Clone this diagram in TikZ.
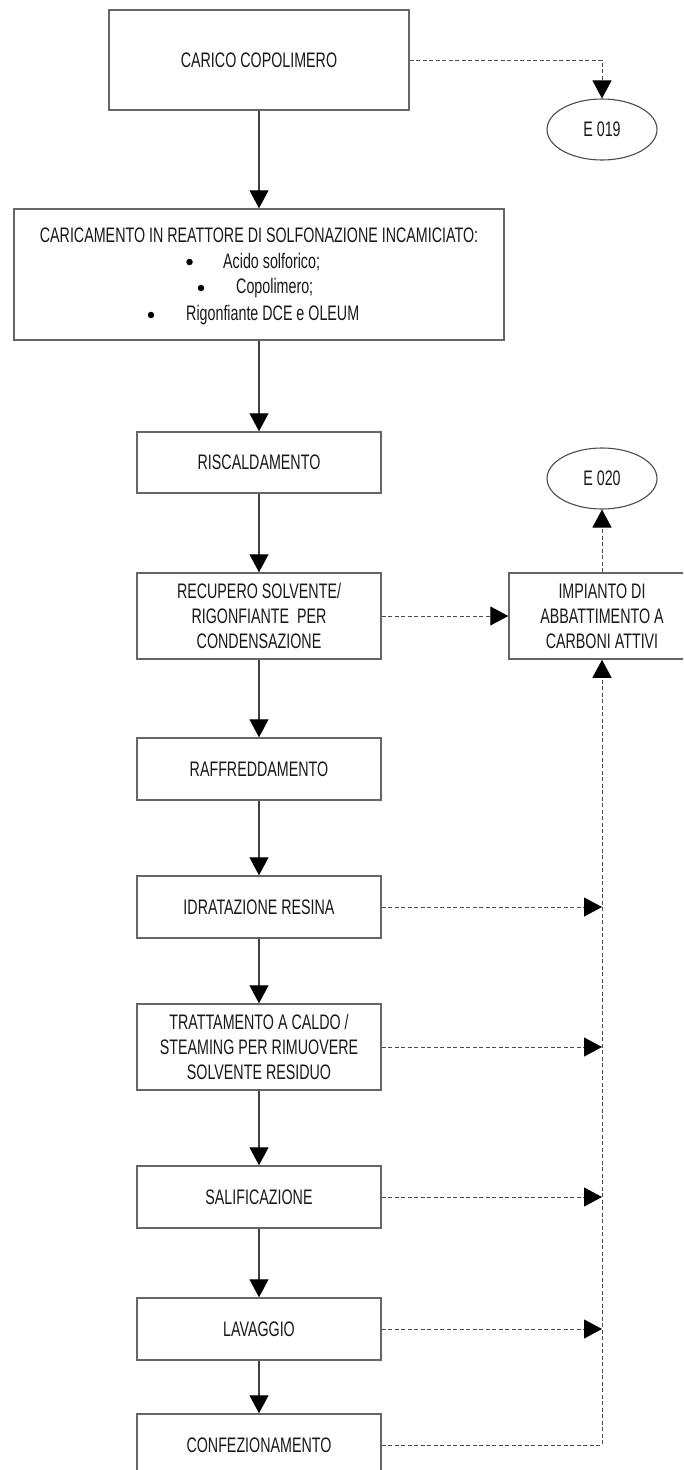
\documentclass[tikz,border=0pt]{standalone}
\usepackage{fontspec}
\setmainfont[FakeStretch=0.68]{Liberation Sans}
\usetikzlibrary{arrows.meta,shapes.geometric}
\begin{document}
\begin{tikzpicture}[x=1pt,y=-1pt,
  every node/.style={font=\fontsize{21}{25}\selectfont, text=black!90, inner sep=0pt},
  proc/.style={draw=black!60, line width=1.5pt, fill=white, align=center},
  outlet/.style={draw=black!70, line width=1.1pt, ellipse, fill=white,
    minimum width=110pt, minimum height=61pt},
  dot/.style={circle, fill=black, minimum size=6.5pt},
  tip/.style={-{Triangle[length=18pt,width=19pt,color=black]}},
  flow/.style={draw=black!75, line width=1.2pt, tip},
  vent/.style={draw=black!70, line width=1pt, dash pattern=on 4pt off 2.5pt, tip},
]
\useasboundingbox (0,0) rectangle (683,1470);
\clip (0,0) rectangle (683,1470);

% main process column
\node[proc, minimum width=300pt, minimum height=100pt] (carico) at (259,60) {CARICO COPOLIMERO};
\node[proc, minimum width=490pt, minimum height=131pt] (caric) at (259,274.5) {};
\node (ctitle) at (259,235) {CARICAMENTO IN REATTORE DI SOLFONAZIONE INCAMICIATO:};
\node[dot] (d1) at (189.5,262) {};
\node[anchor=west] (l1) at (223,262) {Acido solforico;};
\node[dot] (d2) at (201,288) {};
\node[anchor=west] (l2) at (236,288) {Copolimero;};
\node[dot] (d3) at (151,315) {};
\node[anchor=west] (l3) at (186,315) {Rigonfiante DCE e OLEUM};

\node[proc, minimum width=244pt, minimum height=61pt] (risc) at (259,462.5) {RISCALDAMENTO};
\node[proc, minimum width=244pt, minimum height=86pt] (recup) at (259,616)
  {RECUPERO SOLVENTE/\\RIGONFIANTE~~PER\\CONDENSAZIONE};
\node[proc, minimum width=244pt, minimum height=62pt] (raffr) at (259,769) {RAFFREDDAMENTO};
\node[proc, minimum width=244pt, minimum height=62pt] (idrat) at (259,907) {IDRATAZIONE RESINA};
\node[proc, minimum width=244pt, minimum height=86pt] (tratt) at (259,1047)
  {TRATTAMENTO A CALDO /\\STEAMING PER RIMUOVERE\\SOLVENTE RESIDUO};
\node[proc, minimum width=244pt, minimum height=62pt] (salif) at (259,1197) {SALIFICAZIONE};
\node[proc, minimum width=244pt, minimum height=62pt] (lavag) at (259,1329) {LAVAGGIO};
\node[proc, minimum width=244pt, minimum height=62pt] (confez) at (259,1445) {CONFEZIONAMENTO};

% emission points and abatement unit
\node[outlet] (e19) at (602,129.5) {E 019};
\node[outlet] (e20) at (602,478.5) {E 020};
\node[proc, minimum width=186pt, minimum height=86pt] (imp) at (602,616)
  {IMPIANTO DI\\ABBATTIMENTO A\\CARBONI ATTIVI};

% process flow
\draw[flow] (carico) -- (caric);
\draw[flow] (caric) -- (risc);
\draw[flow] (risc) -- (recup);
\draw[flow] (recup) -- (raffr);
\draw[flow] (raffr) -- (idrat);
\draw[flow] (idrat) -- (tratt);
\draw[flow] (tratt) -- (salif);
\draw[flow] (salif) -- (lavag);
\draw[flow] (lavag) -- (confez);

% vent streams
\draw[vent] (carico.east) -| (e19.north);
\draw[vent] (recup.east) -- (imp.west);
\draw[vent] (imp.north) -- (e20.south);
\draw[vent] (confez.east) -| (imp.south);
\draw[vent] (idrat.east) -- (idrat.east -| imp.south);
\draw[vent] (tratt.east) -- (tratt.east -| imp.south);
\draw[vent] (salif.east) -- (salif.east -| imp.south);
\draw[vent] (lavag.east) -- (lavag.east -| imp.south);
\end{tikzpicture}
\end{document}
